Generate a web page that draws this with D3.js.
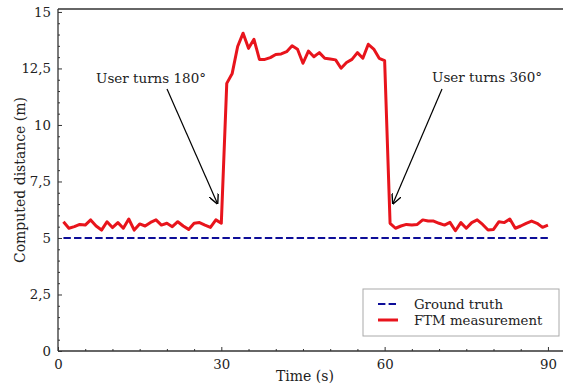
<!DOCTYPE html>
<html>
<head>
<meta charset="utf-8">
<script src="https://cdn.jsdelivr.net/npm/d3@7"></script>
<style>
  body { margin: 0; background: #fff; }
  svg text { font-family: "DejaVu Serif", serif; fill: #222; }
</style>
</head>
<body>
<svg id="chart" width="563" height="385"></svg>
<script>
// data, one sample per second
var firstSecond = 1;
var beforeTurn = [5.72, 5.43, 5.50, 5.60, 5.57, 5.80, 5.53, 5.35, 5.72, 5.46,
  5.68, 5.43, 5.84, 5.35, 5.62, 5.53, 5.69, 5.80, 5.57, 5.65,
  5.50, 5.72, 5.53, 5.38, 5.65, 5.68, 5.57, 5.47, 5.80, 5.65];
var afterTurn180 = [11.84, 12.28, 13.47, 14.06, 13.39, 13.79, 12.90, 12.90, 12.98, 13.12,
  13.14, 13.24, 13.50, 13.35, 12.73, 13.27, 13.02, 13.20, 12.95, 12.92,
  12.88, 12.51, 12.76, 12.90, 13.20, 12.95, 13.57, 13.36, 12.95, 12.85];
var afterTurn360 = [5.65, 5.43, 5.53, 5.60, 5.57, 5.60, 5.80, 5.75, 5.75, 5.65,
  5.57, 5.69, 5.32, 5.68, 5.43, 5.68, 5.80, 5.60, 5.35, 5.38,
  5.72, 5.68, 5.84, 5.43, 5.53, 5.65, 5.75, 5.65, 5.47, 5.57];
var groundTimes = [1, 90];
var groundValues = [5, 5];
var xTicks = [0, 30, 60, 90];
var yTicks = [0, 2.5, 5, 7.5, 10, 12.5, 15];
var legendLabels = ['Ground truth', 'FTM measurement'];
var notes = [
  {text: 'User turns 180°', t: 30, v: 5.65},
  {text: 'User turns 360°', t: 61, v: 5.65}
];

var BLUE = '#0d0d98';
var RED = '#e8141c';
var AXIS = '#333';

var svg = d3.select('#chart');

var x = d3.scaleLinear().domain([0, 93.5]).range([58, 567]);
var y = d3.scaleLinear().domain([0, 15.13]).range([351, 9]);

var ftm = beforeTurn.concat(afterTurn180, afterTurn360).map(function(v, i) {
  return {t: firstSecond + i, v: v};
});
var ground = groundTimes.map(function(t, i) { return {t: t, v: groundValues[i]}; });

var line = d3.line()
  .x(function(d) { return x(d.t); })
  .y(function(d) { return y(d.v); });

// lines
svg.append('path')
  .datum(ground)
  .attr('d', line)
  .attr('fill', 'none')
  .attr('stroke', BLUE)
  .attr('stroke-width', 2)
  .attr('stroke-dasharray', '7.4,3.2');

svg.append('path')
  .datum(ftm)
  .attr('d', line)
  .attr('fill', 'none')
  .attr('stroke', RED)
  .attr('stroke-width', 3)
  .attr('stroke-linejoin', 'round');

// frame: bottom, left, top
var frame = svg.append('g').attr('stroke', AXIS).attr('stroke-width', 1.3).attr('fill', 'none');
frame.append('line').attr('x1', x(0)).attr('x2', 563).attr('y1', y(0)).attr('y2', y(0));
frame.append('line').attr('x1', x(0)).attr('x2', x(0)).attr('y1', y(0)).attr('y2', y.range()[1]);
frame.append('line').attr('x1', x(0)).attr('x2', 563).attr('y1', y.range()[1]).attr('y2', y.range()[1]);

// ticks point inward
var fmt = function(d) { return String(d).replace('.', ','); };

var xAxis = d3.axisBottom(x).tickValues(xTicks).tickSizeInner(-4).tickSizeOuter(0).tickPadding(9).tickFormat(fmt);
var xMinor = d3.axisBottom(x).tickValues(d3.range(5, 95, 5).filter(function(d) { return d % 30; }))
  .tickSizeInner(-2).tickSizeOuter(0).tickFormat('');
var yAxis = d3.axisLeft(y).tickValues(yTicks).tickSizeInner(-4).tickSizeOuter(0).tickPadding(7).tickFormat(fmt);
var yMinor = d3.axisLeft(y).tickValues(d3.range(0.5, 15, 0.5).filter(function(d) { return d % 2.5; }))
  .tickSizeInner(-2).tickSizeOuter(0).tickFormat('');

[[xAxis, 'x'], [xMinor, 'x'], [yAxis, 'y'], [yMinor, 'y']].forEach(function(a) {
  var g = svg.append('g')
    .attr('transform', a[1] == 'x' ? 'translate(0,' + y(0) + ')' : 'translate(' + x(0) + ',0)')
    .call(a[0]);
  g.select('.domain').remove();
  g.selectAll('line').attr('stroke', AXIS).attr('stroke-width', 1);
  g.selectAll('text').attr('font-size', 13.3).attr('fill', '#222').attr('font-family', 'DejaVu Serif');
});

// axis titles
svg.append('text')
  .attr('x', 305).attr('y', 381)
  .attr('text-anchor', 'middle')
  .attr('font-size', 14)
  .text('Time (s)');
svg.append('text')
  .attr('transform', 'translate(25,180) rotate(-90)')
  .attr('text-anchor', 'middle')
  .attr('font-size', 14)
  .text('Computed distance (m)');

// annotations
var defs = svg.append('defs');
defs.append('marker')
  .attr('id', 'head')
  .attr('viewBox', '0 0 10 10')
  .attr('refX', 9).attr('refY', 5)
  .attr('markerWidth', 10).attr('markerHeight', 10)
  .attr('markerUnits', 'userSpaceOnUse')
  .attr('orient', 'auto')
  .append('path')
  .attr('d', 'M0,0L10,5L0,10')
  .attr('fill', 'none')
  .attr('stroke', '#000')
  .attr('stroke-width', 1.4);

var noteText = [[96, 83], [432, 82]];
var noteStart = [[167, 89], [442, 89]];
notes.forEach(function(n, i) {
  svg.append('text')
    .attr('x', noteText[i][0]).attr('y', noteText[i][1])
    .attr('font-size', 13.5)
    .text(n.text);
  var ex = x(n.t) + (i == 0 ? -4 : 3);
  var ey = y(n.v) - 20;
  svg.append('line')
    .attr('x1', noteStart[i][0]).attr('y1', noteStart[i][1])
    .attr('x2', ex).attr('y2', ey)
    .attr('stroke', '#000')
    .attr('stroke-width', 1.2)
    .attr('marker-end', 'url(#head)');
});

// legend
var legend = svg.append('g').attr('transform', 'translate(363,289)');
legend.append('rect')
  .attr('width', 196).attr('height', 47)
  .attr('fill', '#fff')
  .attr('stroke', '#aaa')
  .attr('stroke-width', 1);
legendLabels.forEach(function(label, i) {
  var ly = 15 + i * 16;
  legend.append('line')
    .attr('x1', 15).attr('x2', 35).attr('y1', ly).attr('y2', ly)
    .attr('stroke', i == 0 ? BLUE : RED)
    .attr('stroke-width', i == 0 ? 2 : 3)
    .attr('stroke-dasharray', i == 0 ? '7.4,3.2' : null);
  legend.append('text')
    .attr('x', 51).attr('y', ly + 5)
    .attr('font-size', 13.3)
    .text(label);
});
</script>
</body>
</html>
